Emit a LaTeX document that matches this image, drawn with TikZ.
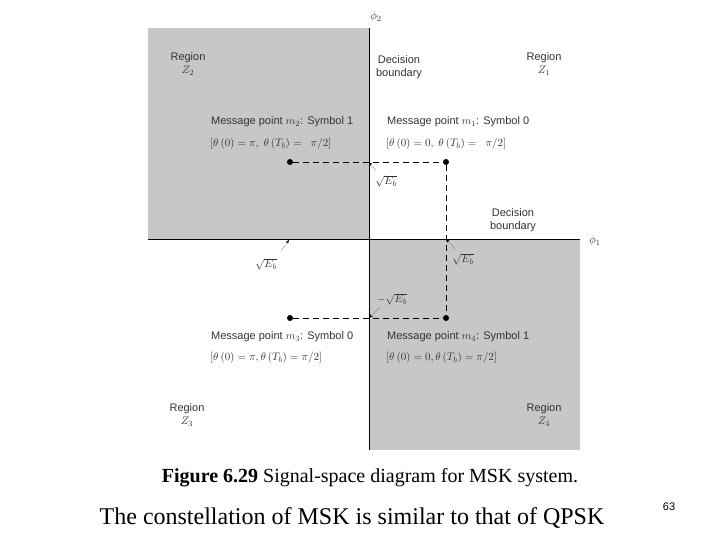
\documentclass[tikz,border=0pt]{standalone}
\usepackage{fontspec}
\setmainfont{Liberation Serif}
\setsansfont{Liberation Sans}
\usetikzlibrary{arrows.meta}
\begin{document}
\begin{tikzpicture}[x=1pt,y=-1pt,
  lab/.style={font=\sffamily\fontsize{11}{13}\selectfont,text=black!80,align=center,inner sep=1pt},
  pt/.style={circle,fill=black,inner sep=0pt,minimum size=6pt},
  dl/.style={dashed,dash pattern=on 6pt off 4pt,thick},
  ar/.style={densely dotted,-{Stealth[length=4pt]}},
  shade/.style={fill=black!22}]
\useasboundingbox (0,0) rectangle (720,540);
\fill[shade] (148,28) rectangle (369,239);
\fill[shade] (369,239) rectangle (580,450);
\draw (369,28) -- (369,450);
\draw (148,239) -- (580,239);
\node[lab] (phi2) at (376,17) {$\phi_2$};
\node[lab] (phi1) at (595,241) {$\phi_1$};
\node[pt] (m2) at (290,162) {};
\node[pt] (m1) at (446,162) {};
\node[pt] (m3) at (290,318) {};
\node[pt] (m4) at (446,318) {};
\draw[dl] (m2) -- (m1);
\draw[dl] (m1) -- (m4);
\draw[dl] (m3) -- (m4);
\node[lab] (z2) at (188,64) {Region\\$Z_2$};
\node[lab] (z1) at (544,64) {Region\\$Z_1$};
\node[lab] (z3) at (187,415) {Region\\$Z_3$};
\node[lab] (z4) at (544,415) {Region\\$Z_4$};
\node[lab] (db1) at (399,67) {Decision\\boundary};
\node[lab] (db2) at (513,220) {Decision\\boundary};
\node[lab,anchor=west] (t2a) at (210,122) {Message point $m_2$: Symbol 1};
\node[lab,anchor=west] (t2b) at (209,144) {$[\theta\,(0) = \pi,\ \theta\,(T_b) = \ \ \pi/2]$};
\node[lab,anchor=west] (t1a) at (386,122) {Message point $m_1$: Symbol 0};
\node[lab,anchor=west] (t1b) at (385,144) {$[\theta\,(0) = 0,\ \theta\,(T_b) = \ \ \pi/2]$};
\node[lab,anchor=west] (t3a) at (210,337) {Message point $m_3$: Symbol 0};
\node[lab,anchor=west] (t3b) at (209,358) {$[\theta\,(0) = \pi, \theta\,(T_b) = \pi/2]$};
\node[lab,anchor=west] (t4a) at (386,337) {Message point $m_4$: Symbol 1};
\node[lab,anchor=west] (t4b) at (385,358) {$[\theta\,(0) = 0, \theta\,(T_b) = \pi/2]$};
\coordinate (c1) at (369,162);
\coordinate (c2) at (446,239);
\coordinate (c3) at (369,318);
\coordinate (c4) at (289,240);
\node[lab] (e1) at (386,181) {$\sqrt{E_b}$};
\node[lab] (e2) at (463,259) {$\sqrt{E_b}$};
\node[lab] (e3) at (392,299) {$-\sqrt{E_b}$};
\node[lab] (e4) at (266,264) {$\sqrt{E_b}$};
\draw[ar] (376,171) -- (c1);
\draw[ar] (455,249) -- (c2);
\draw[ar] (379,308) -- (c3);
\draw[ar] (281,251) -- (c4);
\node (cap) at (370,478) {\fontsize{20}{24}\selectfont\textbf{Figure 6.29} Signal-space diagram for MSK system.};
\node (txt) at (352,518) {\fontsize{24}{28}\selectfont The constellation of MSK is similar to that of QPSK};
\node[font=\sffamily\fontsize{11}{13}\selectfont] (pg) at (669,507) {63};
\end{tikzpicture}
\end{document}
